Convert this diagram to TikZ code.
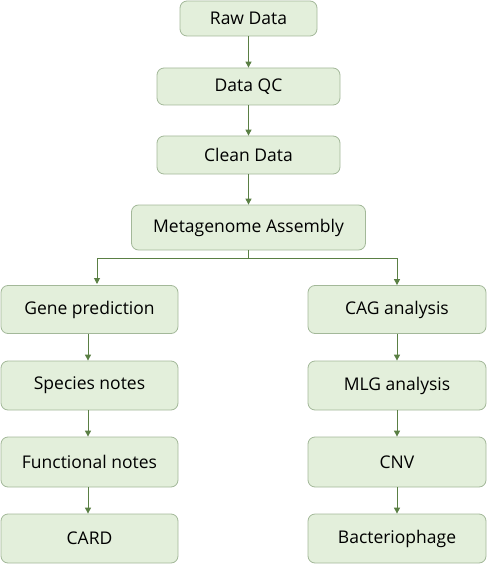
\documentclass[tikz,border=0pt]{standalone}
\usepackage{fontspec}
\setmainfont{Open Sans}
\usetikzlibrary{arrows.meta}
\definecolor{boxfill}{HTML}{E3EFDB}
\definecolor{boxdraw}{HTML}{A3B899}
\definecolor{arr}{HTML}{5A7F44}
\tikzset{
  box/.style={draw=boxdraw, fill=boxfill, line width=0.8pt, rounded corners=7pt,
    inner sep=0pt, font=\fontsize{17.5}{20}\selectfont, text=black},
  conn/.style={draw=arr, line width=1pt, -{Triangle[length=6pt,width=6pt]}},
  plainline/.style={draw=arr, line width=1pt}
}
\begin{document}
\begin{tikzpicture}[x=1pt,y=-1pt]
\useasboundingbox (0,0) rectangle (487,564);
\node[box, minimum width=137pt, minimum height=35pt] (raw) at (248.5,18.5) {Raw Data};
\node[box, minimum width=183pt, minimum height=37pt] (qc) at (248.5,86.5) {Data QC};
\node[box, minimum width=183pt, minimum height=38pt] (clean) at (248.5,155) {Clean Data};
\node[box, minimum width=234pt, minimum height=45pt] (meta) at (248.5,227.5) {Metagenome Assembly};

\node[box, minimum width=177pt, minimum height=48pt] (gene) at (89.5,309.5) {Gene prediction};
\node[box, minimum width=177pt, minimum height=49pt] (species) at (89.5,385.5) {Species notes};
\node[box, minimum width=177pt, minimum height=50pt] (func) at (89.5,462) {Functional notes};
\node[box, minimum width=177pt, minimum height=49pt] (card) at (89.5,538.5) {CARD};

\node[box, minimum width=178pt, minimum height=48pt] (cag) at (397,309.5) {CAG analysis};
\node[box, minimum width=178pt, minimum height=49pt] (mlg) at (397,385.5) {MLG analysis};
\node[box, minimum width=178pt, minimum height=50pt] (cnv) at (397,462) {CNV};
\node[box, minimum width=178pt, minimum height=49pt] (phage) at (397,538.5) {Bacteriophage};

\draw[conn] (raw) -- (qc);
\draw[conn] (qc) -- (clean);
\draw[conn] (clean) -- (meta);

\coordinate (split) at (248.5,258);
\coordinate (lsplit) at (97,258);
\coordinate (rsplit) at (397,258);
\draw[plainline] (meta.south) -- (split);
\draw[plainline] (lsplit) -- (rsplit);
\draw[conn] (lsplit) -- (97,284);
\draw[conn] (rsplit) -- (cag.north);

\draw[conn] (gene.south -| 88,0) -- (species.north -| 88,0);
\draw[conn] (species.south -| 88,0) -- (func.north -| 88,0);
\draw[conn] (func.south -| 88,0) -- (card.north -| 88,0);

\draw[conn] (cag) -- (mlg);
\draw[conn] (mlg) -- (cnv);
\draw[conn] (cnv) -- (phage);
\end{tikzpicture}
\end{document}
